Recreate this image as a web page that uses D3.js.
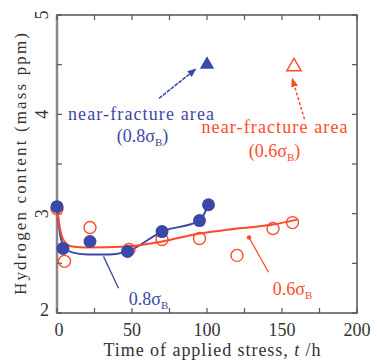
<!DOCTYPE html>
<html>
<head>
<meta charset="utf-8">
<script src="https://cdn.jsdelivr.net/npm/d3@7"></script>
<style>
body { margin: 0; background: #fff; }
text { font-family: "Liberation Serif", "DejaVu Serif", serif; }
</style>
</head>
<body>
<div id="chart"></div>
<script>
// data
const blue_pts = [[0, 3.07], [4, 2.65], [22, 2.72], [47, 2.62], [70, 2.82], [95, 2.93], [101, 3.09]];
const red_pts = [[0, 3.05], [5, 2.52], [22, 2.86], [48, 2.64], [70, 2.74], [95, 2.75], [120, 2.58], [144, 2.85], [157, 2.91]];
const blue_line = [[0, 3.07], [2, 2.8], [5, 2.66], [10, 2.61], [20, 2.59], [35, 2.59], [47, 2.62], [70, 2.82], [95, 2.93], [101, 3.09]];
const red_line = [[0, 3.07], [2, 2.85], [5, 2.72], [10, 2.67], [20, 2.66], [47, 2.67], [70, 2.72], [95, 2.8], [120, 2.85], [144, 2.89], [160, 2.94]];
const blue_tri = [[100, 4.5]];
const red_tri = [[158, 4.48]];
const x_ticks = [0, 50, 100, 150, 200];
const y_ticks = [2, 3, 4, 5];

const width = 377;
const height = 364;
const margin = {top: 15, bottom: 51, left: 57, right: 20};
const blue = '#3a48a8';
const red = '#ff4a2a';

const svg = d3.select('#chart')
    .append('svg')
    .attr('width', width)
    .attr('height', height);

const x = d3.scaleLinear()
    .domain([0, 200])
    .range([margin.left, width - margin.right]);

const y = d3.scaleLinear()
    .domain([2, 5])
    .range([height - margin.bottom, margin.top]);

// frame + inward ticks
svg.append('rect')
    .attr('x', x(0)).attr('y', y(5))
    .attr('width', x(200) - x(0)).attr('height', y(2) - y(5))
    .attr('fill', 'none').attr('stroke', '#555').attr('stroke-width', 1.5);
svg.append('line')
    .attr('x1', x(0)).attr('x2', x(0)).attr('y1', y(5)).attr('y2', y(2))
    .attr('stroke', '#888').attr('stroke-width', 2.5);

const xt = d3.range(0, 201, 25);
const yt = d3.range(2, 5.01, 0.5);
const ticks = svg.append('g').attr('stroke', '#555').attr('stroke-width', 1.2);
xt.forEach(d => {
    ticks.append('line').attr('x1', x(d)).attr('x2', x(d)).attr('y1', y(2)).attr('y2', y(2) - 5);
    ticks.append('line').attr('x1', x(d)).attr('x2', x(d)).attr('y1', y(5)).attr('y2', y(5) + 5);
});
yt.forEach(d => {
    ticks.append('line').attr('x1', x(0)).attr('x2', x(0) + 5).attr('y1', y(d)).attr('y2', y(d));
    ticks.append('line').attr('x1', x(200)).attr('x2', x(200) - 5).attr('y1', y(d)).attr('y2', y(d));
});

svg.append('g').selectAll('text')
    .data(x_ticks)
    .join('text')
    .attr('x', d => x(d) + (d === 0 ? 2 : 0))
    .attr('y', y(2) + 23)
    .attr('text-anchor', 'middle')
    .attr('font-size', 18)
    .attr('fill', '#333')
    .text(d => d);

svg.append('g').selectAll('text')
    .data(y_ticks)
    .join('text')
    .attr('transform', d => d === 2
        ? `translate(${x(0) - 8},${y(d) + 3})`
        : `translate(${x(0) - 9},${y(d)}) rotate(-90)`)
    .attr('text-anchor', d => d === 2 ? 'end' : 'middle')
    .attr('font-size', 18)
    .attr('fill', '#333')
    .text(d => d);

svg.append('text')
    .attr('x', 212)
    .attr('y', height - 8)
    .attr('text-anchor', 'middle')
    .attr('font-size', 18)
    .attr('fill', '#333')
    .attr('textLength', 217)
    .html('Time of applied stress, <tspan font-style="italic">t</tspan> /h');

svg.append('text')
    .attr('transform', `translate(26,${(y(2) + y(5)) / 2}) rotate(-90)`)
    .attr('text-anchor', 'middle')
    .attr('font-size', 17)
    .attr('fill', '#333')
    .attr('textLength', 262)
    .text('Hydrogen content (mass ppm)');

// lines
const line = d3.line().x(d => x(d[0])).y(d => y(d[1])).curve(d3.curveMonotoneX);
svg.append('path').datum(blue_line)
    .attr('d', line).attr('fill', 'none').attr('stroke', blue).attr('stroke-width', 2);
svg.append('path').datum(red_line)
    .attr('d', line).attr('fill', 'none').attr('stroke', red).attr('stroke-width', 2);

// markers
svg.append('g').selectAll('circle')
    .data(red_pts)
    .join('circle')
    .attr('cx', d => x(d[0])).attr('cy', d => y(d[1])).attr('r', 6)
    .attr('fill', 'none').attr('stroke', red).attr('stroke-width', 1.4);

svg.append('g').selectAll('circle')
    .data(blue_pts)
    .join('circle')
    .attr('cx', d => x(d[0])).attr('cy', d => y(d[1])).attr('r', 6.5)
    .attr('fill', blue);

const tri = d3.symbol().type(d3.symbolTriangle).size(90);
svg.append('g').selectAll('path')
    .data(blue_tri)
    .join('path')
    .attr('transform', d => `translate(${x(d[0])},${y(d[1])})`)
    .attr('d', tri).attr('fill', blue);
svg.append('g').selectAll('path')
    .data(red_tri)
    .join('path')
    .attr('transform', d => `translate(${x(d[0])},${y(d[1])})`)
    .attr('d', tri).attr('fill', 'none').attr('stroke', red).attr('stroke-width', 1.4);

// annotations
const defs = svg.append('defs');
[['ah_blue', blue], ['ah_red', red]].forEach(([id, c]) => {
    defs.append('marker').attr('id', id)
        .attr('viewBox', '0 0 10 10').attr('refX', 8).attr('refY', 5)
        .attr('markerWidth', 6).attr('markerHeight', 6).attr('orient', 'auto')
        .append('path').attr('d', 'M0,1L10,5L0,9z').attr('fill', c);
});

const blue_arrow = [[68, 4.16], [92, 4.45]];
const red_arrow = [[165, 3.95], [157, 4.35]];
const blue_leader = [[41, 2.25], [31, 2.57]];
const red_leader = [[141, 2.41], [128, 2.76]];

svg.append('line')
    .attr('x1', x(blue_arrow[0][0])).attr('y1', y(blue_arrow[0][1]))
    .attr('x2', x(blue_arrow[1][0])).attr('y2', y(blue_arrow[1][1]))
    .attr('stroke', blue).attr('stroke-width', 1.5).attr('stroke-dasharray', '4,1')
    .attr('marker-end', 'url(#ah_blue)');
svg.append('line')
    .attr('x1', x(red_arrow[0][0])).attr('y1', y(red_arrow[0][1]))
    .attr('x2', x(red_arrow[1][0])).attr('y2', y(red_arrow[1][1]))
    .attr('stroke', red).attr('stroke-width', 1.5).attr('stroke-dasharray', '3,2')
    .attr('marker-end', 'url(#ah_red)');
svg.append('line')
    .attr('x1', x(blue_leader[0][0])).attr('y1', y(blue_leader[0][1]))
    .attr('x2', x(blue_leader[1][0])).attr('y2', y(blue_leader[1][1]))
    .attr('stroke', blue).attr('stroke-width', 1.3);
svg.append('line')
    .attr('x1', x(red_leader[0][0])).attr('y1', y(red_leader[0][1]))
    .attr('x2', x(red_leader[1][0])).attr('y2', y(red_leader[1][1]))
    .attr('stroke', red).attr('stroke-width', 1.3);
svg.append('circle')
    .attr('cx', x(red_leader[1][0])).attr('cy', y(red_leader[1][1])).attr('r', 2.2)
    .attr('fill', red);

function label (px, py, c, html, len) {
    const t = svg.append('text')
        .attr('x', x(px)).attr('y', y(py))
        .attr('text-anchor', 'middle')
        .attr('font-size', 18)
        .attr('fill', c)
        .html(html);
    if (len) t.attr('textLength', len);
}
const sub = s => `σ<tspan font-size="11" dy="4">${s}</tspan>`;
label(56, 3.94, blue, 'near-fracture area', 146);
label(57, 3.72, blue, `(0.8${sub('B')}<tspan dy="-4">)</tspan>`);
label(145, 3.81, red, 'near-fracture area', 146);
label(145, 3.57, red, `(0.6${sub('B')}<tspan dy="-4">)</tspan>`);
label(61, 2.08, blue, `0.8${sub('B')}`);
label(157, 2.18, red, `0.6${sub('B')}`);
</script>
</body>
</html>
